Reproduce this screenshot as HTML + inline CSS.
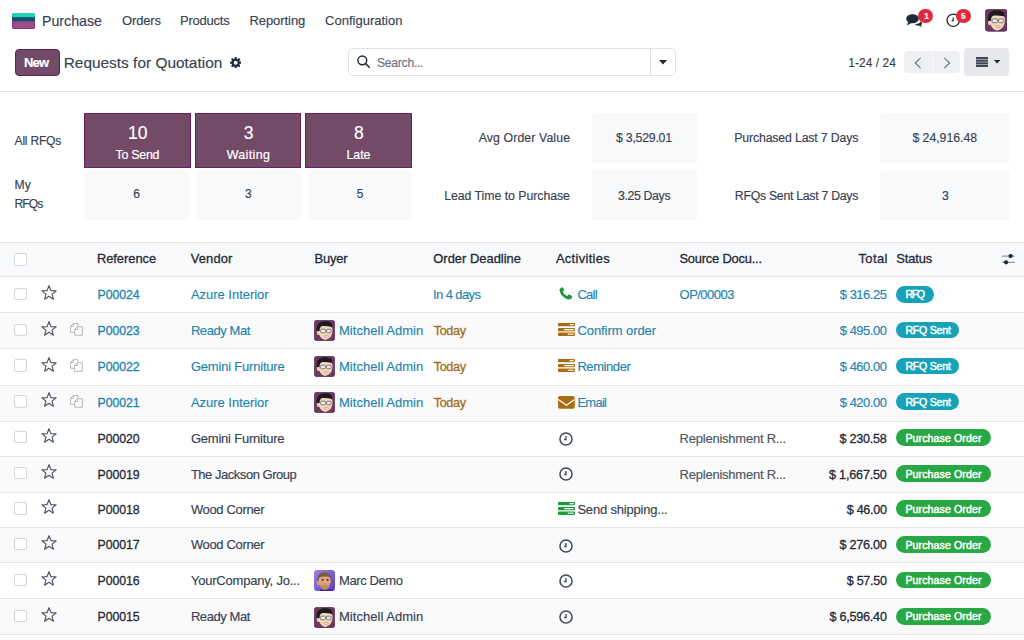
<!DOCTYPE html>
<html><head><meta charset="utf-8"><style>
*{box-sizing:border-box;margin:0;padding:0}
html,body{width:1024px;height:640px;overflow:hidden;background:#fff}
body{font-family:"Liberation Sans",sans-serif;color:#374151;position:relative;font-size:13px}
.a{position:absolute}
.t{position:absolute;white-space:nowrap;line-height:1;-webkit-text-stroke:0.15px currentColor}
.sb{-webkit-text-stroke:0.3px currentColor}
.sb2{-webkit-text-stroke:0.2px currentColor}
.sbw{-webkit-text-stroke:0.45px currentColor}
.box{position:absolute;background:#f8f9fb;border-radius:2px}
.pt{position:absolute;background:#734b68;border:1px solid #6a1f5c}
.cb{position:absolute;left:14px;width:13px;height:13px;border:1px solid #d3d6da;border-radius:2px;background:#fff}
.lk{color:#1e84ad}
.dk{color:#374151}
.hd{color:#1f2937}
.gr{color:#4b5563}
.today{color:#a06d1c}
.badge{position:absolute;left:896px;height:17px;border-radius:9px}
.info{background:#17a2b8}
.succ{background:#28a745}
</style></head><body>
<svg class="a" style="left:11.7px;top:12.7px" width="23" height="16" viewBox="0 0 23 16">
<rect x="0" y="0" width="23" height="16" rx="2" fill="#9a4f86"/>
<rect x="0.5" y="8" width="22" height="7.5" rx="1.5" fill="none" stroke="#8c2c7c" stroke-width="0.9"/>
<rect x="0" y="0" width="23" height="4.4" rx="1.5" fill="#22d3b9"/>
<rect x="0" y="4.2" width="23" height="3.9" fill="#0b5573"/>
</svg>
<div class="t" style="left:42.00px;top:14.00px;font-size:14.3px;letter-spacing:-0.060px;color:#374151">Purchase</div>
<div class="t" style="left:122.00px;top:14.00px;font-size:13px;letter-spacing:-0.143px;color:#374151">Orders</div>
<div class="t" style="left:180.00px;top:14.00px;font-size:13px;letter-spacing:-0.226px;color:#374151">Products</div>
<div class="t" style="left:249.40px;top:14.00px;font-size:13px;letter-spacing:-0.057px;color:#374151">Reporting</div>
<div class="t" style="left:325.00px;top:14.00px;font-size:13px;letter-spacing:0.012px;color:#374151">Configuration</div>
<svg class="a" style="left:906px;top:14px" width="17" height="13" viewBox="0 0 17 13">
<ellipse cx="6.5" cy="4.8" rx="6.3" ry="4.5" fill="#1f2937"/>
<path d="M2 8 L1.2 11.5 L5.5 9 Z" fill="#1f2937"/>
<path d="M9 10.2 C11 10.2 13.8 9.5 14.8 7.5 C16.5 8.5 16.2 10.5 15 11.2 L16.2 13 L12.5 11.6 C11 11.8 9.8 11.2 9 10.2Z" fill="#1f2937"/>
</svg>
<div class="a" style="left:918.2px;top:8.8px;width:14.7px;height:14.7px;border-radius:50%;background:#e12a3e"></div>
<div class="t" style="left:924.20px;top:13.00px;font-size:8.2px;color:#fff;font-weight:bold">1</div>
<svg class="a" style="left:946.3px;top:13.2px" width="14.5" height="14.5" viewBox="0 0 14.5 14.5">
<circle cx="7.25" cy="7.25" r="6.2" fill="none" stroke="#1f2937" stroke-width="1.3"/>
<path d="M7.25 4.5 V7.6 H5.6" fill="none" stroke="#1f2937" stroke-width="1.2"/>
</svg>
<div class="a" style="left:955.9px;top:8.8px;width:14.7px;height:14.7px;border-radius:50%;background:#e12a3e"></div>
<div class="t" style="left:961.10px;top:13.00px;font-size:8.2px;color:#fff;font-weight:bold">5</div>
<svg class="a" style="left:984.7px;top:9.2px" width="22.6" height="22.6" viewBox="0 0 22.6 22.6"><rect x="0.3" y="0.3" width="22" height="22" rx="3" fill="#6a3a60" stroke="#62184f" stroke-width="0.7"/><ellipse cx="4.7" cy="13.8" rx="1.7" ry="2.4" fill="#f2cfae"/><path d="M5 9 C4.3 14.5 6.5 21 12.2 21.4 C17.6 20.8 20.3 15.5 19.9 9.8 C19.6 6.8 16.3 5.6 12.2 5.6 C8.2 5.6 5.4 6.2 5 9Z" fill="#f5d6b7"/><path d="M3 11.8 C2.2 6 4.6 1.6 11 1.3 C16.5 1.1 20.6 2.8 19.6 7.6 C17 6.6 12.5 6.9 8.8 6.5 C7.4 7 6.6 8 6.2 9.3 L5.9 12 Z" fill="#1b1b1d"/><rect x="7.1" y="9.9" width="5.3" height="3.8" rx="1" fill="#e9ecee" stroke="#66696e" stroke-width="0.9"/><rect x="13.6" y="9.9" width="4.8" height="3.8" rx="1" fill="#e9ecee" stroke="#66696e" stroke-width="0.9"/><path d="M12.4 11 H13.6" stroke="#66696e" stroke-width="0.8"/><ellipse cx="13.1" cy="17.6" rx="2.4" ry="0.9" fill="#f4f4f4" stroke="#b67e63" stroke-width="0.6"/></svg>
<div class="a" style="left:14.5px;top:48.6px;width:45.1px;height:27.6px;background:#714b67;border:1px solid #5e2352;border-radius:4px"></div>
<div class="t" style="left:24.00px;top:56.00px;font-size:13px;letter-spacing:-0.790px;color:#fff;font-weight:bold">New</div>
<div class="t" style="left:63.70px;top:55.00px;font-size:15.4px;letter-spacing:0.015px;color:#374151">Requests for Quotation</div>
<svg class="a" style="left:229.6px;top:57px" width="11.4" height="11.4" viewBox="0 0 12 12">
<g fill="#1f2937"><circle cx="6" cy="6" r="4.2"/>
<rect x="4.85" y="0" width="2.3" height="12" rx="0.6"/>
<rect x="0" y="4.85" width="12" height="2.3" rx="0.6"/>
<rect x="4.85" y="0" width="2.3" height="12" rx="0.6" transform="rotate(45 6 6)"/>
<rect x="4.85" y="0" width="2.3" height="12" rx="0.6" transform="rotate(-45 6 6)"/></g>
<circle cx="6" cy="6" r="2.1" fill="#fff"/></svg>
<div class="a" style="left:348px;top:48.3px;width:328px;height:28px;border:1px solid #dee1e5;border-radius:5px;background:#fff"></div>
<div class="a" style="left:650px;top:49px;width:1px;height:26.6px;background:#dee1e5"></div>
<svg class="a" style="left:356.6px;top:55.2px" width="13" height="13" viewBox="0 0 13 13">
<circle cx="5.3" cy="5.3" r="4.4" fill="none" stroke="#1f2937" stroke-width="1.45"/>
<path d="M8.5 8.5 L12.2 12.2" stroke="#1f2937" stroke-width="1.6" stroke-linecap="round"/></svg>
<div class="t" style="left:377.00px;top:57.00px;font-size:12.2px;letter-spacing:-0.287px;color:#6b7280">Search...</div>
<svg class="a" style="left:659.2px;top:60px" width="8" height="5" viewBox="0 0 8 5"><path d="M0 0 H8 L4 4.6Z" fill="#1f2937"/></svg>
<div class="t" style="left:848.30px;top:58.00px;font-size:11.9px;letter-spacing:0.082px;color:#374151">1-24 / 24</div>
<div class="a" style="left:904px;top:51.2px;width:56px;height:22px;background:#eef0f3;border-radius:4px"></div>
<div class="a" style="left:931.8px;top:51.2px;width:1px;height:22px;background:#fafbfc"></div>
<svg class="a" style="left:914.3px;top:56.5px" width="8" height="12" viewBox="0 0 8 12"><path d="M6.6 0.8 L1.2 6 L6.6 11.2" fill="none" stroke="#6b7280" stroke-width="1.1"/></svg>
<svg class="a" style="left:942.5px;top:56.5px" width="8" height="12" viewBox="0 0 8 12"><path d="M1.2 0.8 L6.6 6 L1.2 11.2" fill="none" stroke="#6b7280" stroke-width="1.1"/></svg>
<div class="a" style="left:964px;top:48.3px;width:45.3px;height:28px;background:#e6e8eb;border-radius:4px"></div>
<svg class="a" style="left:975.8px;top:56.8px" width="12.5" height="10" viewBox="0 0 12.5 10"><g fill="#3f4756"><rect y="0" width="12.5" height="2.1"/><rect y="2.65" width="12.5" height="2.1"/><rect y="5.3" width="12.5" height="2.1"/><rect y="7.9" width="12.5" height="2.1"/></g></svg>
<svg class="a" style="left:994px;top:60.4px" width="6.2" height="3.5" viewBox="0 0 6.2 3.5"><path d="M0 0 H6.2 L3.1 3.5Z" fill="#1f2937"/></svg>
<div class="a" style="left:0;top:90.5px;width:1024px;height:1px;background:#e2e5e8"></div>
<div class="t" style="left:14.60px;top:135.00px;font-size:12.1px;letter-spacing:-0.243px">All RFQs</div>
<div class="t" style="left:14.60px;top:179.00px;font-size:12.1px">My</div>
<div class="t" style="left:14.60px;top:198.00px;font-size:12.1px;letter-spacing:-0.994px">RFQs</div>
<div class="pt" style="left:84px;top:113.3px;width:107.0px;height:54.9px"></div>
<div class="t" style="left:128.09px;top:125.00px;font-size:17.5px;color:#fff">10</div>
<div class="t sb2" style="left:115.45px;top:149.00px;font-size:12.4px;letter-spacing:-0.235px;color:#fff">To Send</div>
<div class="pt" style="left:195.2px;top:113.3px;width:106.2px;height:54.9px"></div>
<div class="t" style="left:243.74px;top:125.00px;font-size:17.5px;color:#fff">3</div>
<div class="t sb2" style="left:226.75px;top:149.00px;font-size:12.4px;letter-spacing:0.374px;color:#fff">Waiting</div>
<div class="pt" style="left:304.9px;top:113.3px;width:107.1px;height:54.9px"></div>
<div class="t" style="left:353.89px;top:125.00px;font-size:17.5px;color:#fff">8</div>
<div class="t sb2" style="left:346.40px;top:149.00px;font-size:12.4px;color:#fff">Late</div>
<div class="box" style="left:84px;top:170.3px;width:105.0px;height:49.7px"></div>
<div class="t" style="left:133.17px;top:188.00px;font-size:12px">6</div>
<div class="box" style="left:196px;top:170.3px;width:104.7px;height:49.7px"></div>
<div class="t" style="left:245.02px;top:188.00px;font-size:12px">3</div>
<div class="box" style="left:307.7px;top:170.3px;width:104.8px;height:49.7px"></div>
<div class="t" style="left:356.77px;top:188.00px;font-size:12px">5</div>
<div class="t" style="left:478.70px;top:132.00px;font-size:12.3px;letter-spacing:0.108px">Avg Order Value</div>
<div class="t" style="left:444.20px;top:190.00px;font-size:12.3px;letter-spacing:-0.035px">Lead Time to Purchase</div>
<div class="box" style="left:592.2px;top:113px;width:104.5px;height:50.3px"></div>
<div class="box" style="left:592.2px;top:170.3px;width:104.5px;height:50px"></div>
<div class="t" style="left:616.00px;top:132.00px;font-size:12.3px;letter-spacing:-0.235px">$ 3,529.01</div>
<div class="t" style="left:618.00px;top:190.00px;font-size:12.3px;letter-spacing:-0.351px">3.25 Days</div>
<div class="t" style="left:734.30px;top:132.00px;font-size:12.3px;letter-spacing:-0.154px">Purchased Last 7 Days</div>
<div class="t" style="left:734.80px;top:190.00px;font-size:12.3px;letter-spacing:-0.281px">RFQs Sent Last 7 Days</div>
<div class="box" style="left:880.3px;top:113.1px;width:129.4px;height:50px"></div>
<div class="box" style="left:880.3px;top:170.5px;width:129.4px;height:49.8px"></div>
<div class="t" style="left:912.40px;top:132.00px;font-size:12.3px;letter-spacing:-0.031px">$ 24,916.48</div>
<div class="t" style="left:942.10px;top:190.00px;font-size:12.3px">3</div>
<div class="a" style="left:0;top:241.8px;width:1024px;height:1px;background:#e4e6e9"></div>
<div class="a" style="left:0;top:242.8px;width:1024px;height:34px;background:#f8f9fa"></div>
<div class="a" style="left:0;top:276.4px;width:1024px;height:1px;background:#e2e4e7"></div>
<div class="cb" style="top:253.3px;height:12.3px"></div>
<div class="t hd sb" style="left:96.90px;top:253.00px;font-size:12.9px;letter-spacing:-0.029px">Reference</div>
<div class="t hd sb" style="left:190.80px;top:253.00px;font-size:12.9px;letter-spacing:0.121px">Vendor</div>
<div class="t hd sb" style="left:314.50px;top:253.00px;font-size:12.9px;letter-spacing:-0.167px">Buyer</div>
<div class="t hd sb" style="left:433.30px;top:253.00px;font-size:12.9px;letter-spacing:0.018px">Order Deadline</div>
<div class="t hd sb" style="left:555.90px;top:253.00px;font-size:12.9px;letter-spacing:0.334px">Activities</div>
<div class="t hd sb" style="left:679.40px;top:253.00px;font-size:12.9px;letter-spacing:-0.203px">Source Docu...</div>
<div class="t hd sb" style="left:896.20px;top:253.00px;font-size:12.9px;letter-spacing:-0.114px">Status</div>
<div class="t hd sb" style="left:858.50px;top:253.00px;font-size:12.9px;letter-spacing:0.395px">Total</div>
<svg class="a" style="left:1001.7px;top:253px" width="13" height="12" viewBox="0 0 13 12"><g fill="#8f949c"><rect x="0" y="2.5" width="12.9" height="1.2"/><rect x="0" y="8.7" width="12.9" height="1.2"/></g><g fill="#1f2937"><circle cx="8.6" cy="3.1" r="2.15"/><circle cx="4.1" cy="9.3" r="2.15"/></g></svg>
<div class="a" style="left:0;top:277.50px;width:1024px;height:35.40px;background:#fff"></div>
<div class="a" style="left:0;top:312.00px;width:1024px;height:1px;background:#e5e7eb"></div>
<div class="a" style="left:0;top:312.90px;width:1024px;height:36.20px;background:#fafafa"></div>
<div class="a" style="left:0;top:348.20px;width:1024px;height:1px;background:#e5e7eb"></div>
<div class="a" style="left:0;top:349.10px;width:1024px;height:36.40px;background:#fff"></div>
<div class="a" style="left:0;top:384.60px;width:1024px;height:1px;background:#e5e7eb"></div>
<div class="a" style="left:0;top:385.50px;width:1024px;height:36.40px;background:#fafafa"></div>
<div class="a" style="left:0;top:421.00px;width:1024px;height:1px;background:#e5e7eb"></div>
<div class="a" style="left:0;top:421.90px;width:1024px;height:35.30px;background:#fff"></div>
<div class="a" style="left:0;top:456.30px;width:1024px;height:1px;background:#e5e7eb"></div>
<div class="a" style="left:0;top:457.20px;width:1024px;height:35.30px;background:#fafafa"></div>
<div class="a" style="left:0;top:491.60px;width:1024px;height:1px;background:#e5e7eb"></div>
<div class="a" style="left:0;top:492.50px;width:1024px;height:35.20px;background:#fff"></div>
<div class="a" style="left:0;top:526.80px;width:1024px;height:1px;background:#e5e7eb"></div>
<div class="a" style="left:0;top:527.70px;width:1024px;height:35.50px;background:#fafafa"></div>
<div class="a" style="left:0;top:562.30px;width:1024px;height:1px;background:#e5e7eb"></div>
<div class="a" style="left:0;top:563.20px;width:1024px;height:36.00px;background:#fff"></div>
<div class="a" style="left:0;top:598.30px;width:1024px;height:1px;background:#e5e7eb"></div>
<div class="a" style="left:0;top:599.20px;width:1024px;height:35.90px;background:#fafafa"></div>
<div class="a" style="left:0;top:634.20px;width:1024px;height:1px;background:#e5e7eb"></div>
<div class="cb" style="top:287.80px;height:12.4px;width:12.7px;left:14.1px"></div>
<svg class="a" style="left:40.9px;top:284.90px" width="16" height="16" viewBox="0 0 16 16"><path d="M8.00 0.70 L9.88 5.56 L15.09 5.85 L11.05 9.14 L12.38 14.18 L8.00 11.35 L3.62 14.18 L4.95 9.14 L0.91 5.85 L6.12 5.56Z" fill="none" stroke="#4b5563" stroke-width="1.15" stroke-linejoin="round"/></svg>
<div class="t lk sb" style="left:97.50px;top:289.00px;font-size:12.3px;letter-spacing:-0.047px">P00024</div>
<div class="t lk" style="left:190.90px;top:288.00px;font-size:13px;letter-spacing:-0.020px">Azure Interior</div>
<div class="t lk" style="left:433.10px;top:288.00px;font-size:13px;letter-spacing:-0.610px">In 4 days</div>
<svg class="a" style="left:559.4px;top:287.40px" width="14" height="13" viewBox="0 0 14 13"><path d="M2.6 0.4 C1.2 0.9 0.3 2.2 0.6 3.8 C1.4 7.8 5 11.4 9.3 12.5 C10.9 12.9 12.3 12 12.9 10.6 L13.2 9.7 C13.3 9.3 13.1 9 12.8 8.8 L10.3 7.6 C9.9 7.4 9.5 7.5 9.2 7.9 L8.3 9 C6.3 8.1 4.6 6.4 3.8 4.4 L4.9 3.5 C5.2 3.2 5.3 2.8 5.1 2.4 L3.9 0.7 C3.6 0.3 3.1 0.2 2.6 0.4Z" fill="#1c9a3c"/></svg>
<div class="t lk" style="left:577.40px;top:288.00px;font-size:13px;letter-spacing:-0.708px">Call</div>
<div class="t lk" style="left:679.60px;top:288.00px;font-size:13px;letter-spacing:-0.538px">OP/00003</div>
<div class="t lk" style="left:839.80px;top:288.00px;font-size:13px;letter-spacing:-0.505px">$ 316.25</div>
<div class="badge info" style="top:285.90px;width:38.4px;height:16.8px"></div>
<div class="t sbw" style="left:905.40px;top:289.00px;font-size:10.6px;letter-spacing:-1.333px;color:#fff">RFQ</div>
<div class="cb" style="top:323.60px;height:12.4px;width:12.7px;left:14.1px"></div>
<svg class="a" style="left:40.9px;top:320.70px" width="16" height="16" viewBox="0 0 16 16"><path d="M8.00 0.70 L9.88 5.56 L15.09 5.85 L11.05 9.14 L12.38 14.18 L8.00 11.35 L3.62 14.18 L4.95 9.14 L0.91 5.85 L6.12 5.56Z" fill="none" stroke="#4b5563" stroke-width="1.15" stroke-linejoin="round"/></svg>
<svg class="a" style="left:70px;top:323.00px" width="13" height="13" viewBox="0 0 13 13"><g fill="none" stroke="#b3b8c0" stroke-width="1" stroke-linejoin="round"><path d="M0.6 3.4 L3.4 0.6 H7.9 V3.6 M0.6 3.4 V9.3 H4.6 M0.6 3.4 H3.4 V0.6"/><path d="M4.6 6.5 L7.4 3.7 H12.3 V12.3 H4.6 Z M4.6 6.5 H7.4 V3.7"/></g></svg>
<div class="t lk sb" style="left:97.50px;top:325.00px;font-size:12.3px;letter-spacing:-0.047px">P00023</div>
<div class="t lk" style="left:190.90px;top:324.00px;font-size:13px;letter-spacing:-0.432px">Ready Mat</div>
<svg class="a" style="left:313.8px;top:320.40px" width="21" height="21" viewBox="0 0 22.6 22.6"><rect x="0.3" y="0.3" width="22" height="22" rx="3" fill="#6a3a60" stroke="#62184f" stroke-width="0.7"/><ellipse cx="4.7" cy="13.8" rx="1.7" ry="2.4" fill="#f2cfae"/><path d="M5 9 C4.3 14.5 6.5 21 12.2 21.4 C17.6 20.8 20.3 15.5 19.9 9.8 C19.6 6.8 16.3 5.6 12.2 5.6 C8.2 5.6 5.4 6.2 5 9Z" fill="#f5d6b7"/><path d="M3 11.8 C2.2 6 4.6 1.6 11 1.3 C16.5 1.1 20.6 2.8 19.6 7.6 C17 6.6 12.5 6.9 8.8 6.5 C7.4 7 6.6 8 6.2 9.3 L5.9 12 Z" fill="#1b1b1d"/><rect x="7.1" y="9.9" width="5.3" height="3.8" rx="1" fill="#e9ecee" stroke="#66696e" stroke-width="0.9"/><rect x="13.6" y="9.9" width="4.8" height="3.8" rx="1" fill="#e9ecee" stroke="#66696e" stroke-width="0.9"/><path d="M12.4 11 H13.6" stroke="#66696e" stroke-width="0.8"/><ellipse cx="13.1" cy="17.6" rx="2.4" ry="0.9" fill="#f4f4f4" stroke="#b67e63" stroke-width="0.6"/></svg>
<div class="t lk" style="left:339.00px;top:324.00px;font-size:13px;letter-spacing:0.032px">Mitchell Admin</div>
<div class="t today sb" style="left:433.70px;top:325.00px;font-size:12.6px;letter-spacing:-0.336px">Today</div>
<svg class="a" style="left:558px;top:323.00px" width="17" height="13" viewBox="0 0 17 13"><g fill="#a86f12"><rect x="0" y="0" width="17" height="3.2" rx="0.9"/><rect x="0" y="5" width="17" height="3.2" rx="0.9"/><rect x="0" y="9.5" width="17" height="3.4" rx="0.9"/></g><rect x="11.5" y="1.0" width="4.3" height="1.2" rx="0.6" fill="#fff"/><rect x="6.1" y="6" width="9.7" height="1.2" rx="0.6" fill="#fff"/><rect x="9.6" y="10.6" width="6.2" height="1.3" rx="0.6" fill="#e8d3b0"/></svg>
<div class="t lk" style="left:577.40px;top:324.00px;font-size:13px;letter-spacing:-0.066px">Confirm order</div>
<div class="t lk" style="left:839.80px;top:324.00px;font-size:13px;letter-spacing:-0.505px">$ 495.00</div>
<div class="badge info" style="top:321.70px;width:63.3px;height:16.8px"></div>
<div class="t sbw" style="left:905.40px;top:325.00px;font-size:10.6px;letter-spacing:-0.231px;color:#fff">RFQ Sent</div>
<div class="cb" style="top:359.40px;height:12.4px;width:12.7px;left:14.1px"></div>
<svg class="a" style="left:40.9px;top:356.50px" width="16" height="16" viewBox="0 0 16 16"><path d="M8.00 0.70 L9.88 5.56 L15.09 5.85 L11.05 9.14 L12.38 14.18 L8.00 11.35 L3.62 14.18 L4.95 9.14 L0.91 5.85 L6.12 5.56Z" fill="none" stroke="#4b5563" stroke-width="1.15" stroke-linejoin="round"/></svg>
<svg class="a" style="left:70px;top:358.80px" width="13" height="13" viewBox="0 0 13 13"><g fill="none" stroke="#b3b8c0" stroke-width="1" stroke-linejoin="round"><path d="M0.6 3.4 L3.4 0.6 H7.9 V3.6 M0.6 3.4 V9.3 H4.6 M0.6 3.4 H3.4 V0.6"/><path d="M4.6 6.5 L7.4 3.7 H12.3 V12.3 H4.6 Z M4.6 6.5 H7.4 V3.7"/></g></svg>
<div class="t lk sb" style="left:97.50px;top:361.00px;font-size:12.3px;letter-spacing:-0.047px">P00022</div>
<div class="t lk" style="left:190.90px;top:360.00px;font-size:13px;letter-spacing:-0.199px">Gemini Furniture</div>
<svg class="a" style="left:313.8px;top:356.20px" width="21" height="21" viewBox="0 0 22.6 22.6"><rect x="0.3" y="0.3" width="22" height="22" rx="3" fill="#6a3a60" stroke="#62184f" stroke-width="0.7"/><ellipse cx="4.7" cy="13.8" rx="1.7" ry="2.4" fill="#f2cfae"/><path d="M5 9 C4.3 14.5 6.5 21 12.2 21.4 C17.6 20.8 20.3 15.5 19.9 9.8 C19.6 6.8 16.3 5.6 12.2 5.6 C8.2 5.6 5.4 6.2 5 9Z" fill="#f5d6b7"/><path d="M3 11.8 C2.2 6 4.6 1.6 11 1.3 C16.5 1.1 20.6 2.8 19.6 7.6 C17 6.6 12.5 6.9 8.8 6.5 C7.4 7 6.6 8 6.2 9.3 L5.9 12 Z" fill="#1b1b1d"/><rect x="7.1" y="9.9" width="5.3" height="3.8" rx="1" fill="#e9ecee" stroke="#66696e" stroke-width="0.9"/><rect x="13.6" y="9.9" width="4.8" height="3.8" rx="1" fill="#e9ecee" stroke="#66696e" stroke-width="0.9"/><path d="M12.4 11 H13.6" stroke="#66696e" stroke-width="0.8"/><ellipse cx="13.1" cy="17.6" rx="2.4" ry="0.9" fill="#f4f4f4" stroke="#b67e63" stroke-width="0.6"/></svg>
<div class="t lk" style="left:339.00px;top:360.00px;font-size:13px;letter-spacing:0.032px">Mitchell Admin</div>
<div class="t today sb" style="left:433.70px;top:361.00px;font-size:12.6px;letter-spacing:-0.336px">Today</div>
<svg class="a" style="left:558px;top:358.80px" width="17" height="13" viewBox="0 0 17 13"><g fill="#a86f12"><rect x="0" y="0" width="17" height="3.2" rx="0.9"/><rect x="0" y="5" width="17" height="3.2" rx="0.9"/><rect x="0" y="9.5" width="17" height="3.4" rx="0.9"/></g><rect x="11.5" y="1.0" width="4.3" height="1.2" rx="0.6" fill="#fff"/><rect x="6.1" y="6" width="9.7" height="1.2" rx="0.6" fill="#fff"/><rect x="9.6" y="10.6" width="6.2" height="1.3" rx="0.6" fill="#e8d3b0"/></svg>
<div class="t lk" style="left:577.40px;top:360.00px;font-size:13px;letter-spacing:-0.422px">Reminder</div>
<div class="t lk" style="left:839.80px;top:360.00px;font-size:13px;letter-spacing:-0.505px">$ 460.00</div>
<div class="badge info" style="top:357.50px;width:63.3px;height:16.8px"></div>
<div class="t sbw" style="left:905.40px;top:361.00px;font-size:10.6px;letter-spacing:-0.231px;color:#fff">RFQ Sent</div>
<div class="cb" style="top:395.20px;height:12.4px;width:12.7px;left:14.1px"></div>
<svg class="a" style="left:40.9px;top:392.30px" width="16" height="16" viewBox="0 0 16 16"><path d="M8.00 0.70 L9.88 5.56 L15.09 5.85 L11.05 9.14 L12.38 14.18 L8.00 11.35 L3.62 14.18 L4.95 9.14 L0.91 5.85 L6.12 5.56Z" fill="none" stroke="#4b5563" stroke-width="1.15" stroke-linejoin="round"/></svg>
<svg class="a" style="left:70px;top:394.60px" width="13" height="13" viewBox="0 0 13 13"><g fill="none" stroke="#b3b8c0" stroke-width="1" stroke-linejoin="round"><path d="M0.6 3.4 L3.4 0.6 H7.9 V3.6 M0.6 3.4 V9.3 H4.6 M0.6 3.4 H3.4 V0.6"/><path d="M4.6 6.5 L7.4 3.7 H12.3 V12.3 H4.6 Z M4.6 6.5 H7.4 V3.7"/></g></svg>
<div class="t lk sb" style="left:97.50px;top:397.00px;font-size:12.3px;letter-spacing:-0.047px">P00021</div>
<div class="t lk" style="left:190.90px;top:396.00px;font-size:13px;letter-spacing:-0.020px">Azure Interior</div>
<svg class="a" style="left:313.8px;top:392.00px" width="21" height="21" viewBox="0 0 22.6 22.6"><rect x="0.3" y="0.3" width="22" height="22" rx="3" fill="#6a3a60" stroke="#62184f" stroke-width="0.7"/><ellipse cx="4.7" cy="13.8" rx="1.7" ry="2.4" fill="#f2cfae"/><path d="M5 9 C4.3 14.5 6.5 21 12.2 21.4 C17.6 20.8 20.3 15.5 19.9 9.8 C19.6 6.8 16.3 5.6 12.2 5.6 C8.2 5.6 5.4 6.2 5 9Z" fill="#f5d6b7"/><path d="M3 11.8 C2.2 6 4.6 1.6 11 1.3 C16.5 1.1 20.6 2.8 19.6 7.6 C17 6.6 12.5 6.9 8.8 6.5 C7.4 7 6.6 8 6.2 9.3 L5.9 12 Z" fill="#1b1b1d"/><rect x="7.1" y="9.9" width="5.3" height="3.8" rx="1" fill="#e9ecee" stroke="#66696e" stroke-width="0.9"/><rect x="13.6" y="9.9" width="4.8" height="3.8" rx="1" fill="#e9ecee" stroke="#66696e" stroke-width="0.9"/><path d="M12.4 11 H13.6" stroke="#66696e" stroke-width="0.8"/><ellipse cx="13.1" cy="17.6" rx="2.4" ry="0.9" fill="#f4f4f4" stroke="#b67e63" stroke-width="0.6"/></svg>
<div class="t lk" style="left:339.00px;top:396.00px;font-size:13px;letter-spacing:0.032px">Mitchell Admin</div>
<div class="t today sb" style="left:433.70px;top:397.00px;font-size:12.6px;letter-spacing:-0.336px">Today</div>
<svg class="a" style="left:557.9px;top:396.20px" width="16.8" height="12.8" viewBox="0 0 17 13"><rect x="0" y="0" width="17" height="13" rx="1.8" fill="#a86f12"/><path d="M0.3 3.6 L8.5 9.3 L16.7 3.6" fill="none" stroke="#fff" stroke-width="1.25"/></svg>
<div class="t lk" style="left:577.40px;top:396.00px;font-size:13px;letter-spacing:-0.725px">Email</div>
<div class="t lk" style="left:839.80px;top:396.00px;font-size:13px;letter-spacing:-0.505px">$ 420.00</div>
<div class="badge info" style="top:393.30px;width:63.3px;height:16.8px"></div>
<div class="t sbw" style="left:905.40px;top:397.00px;font-size:10.6px;letter-spacing:-0.231px;color:#fff">RFQ Sent</div>
<div class="cb" style="top:431.00px;height:12.4px;width:12.7px;left:14.1px"></div>
<svg class="a" style="left:40.9px;top:428.10px" width="16" height="16" viewBox="0 0 16 16"><path d="M8.00 0.70 L9.88 5.56 L15.09 5.85 L11.05 9.14 L12.38 14.18 L8.00 11.35 L3.62 14.18 L4.95 9.14 L0.91 5.85 L6.12 5.56Z" fill="none" stroke="#4b5563" stroke-width="1.15" stroke-linejoin="round"/></svg>
<div class="t hd sb" style="left:97.50px;top:433.00px;font-size:12.3px;letter-spacing:-0.047px">P00020</div>
<div class="t dk" style="left:190.90px;top:432.00px;font-size:13px;letter-spacing:-0.212px">Gemini Furniture</div>
<svg class="a" style="left:559.3px;top:431.50px" width="14" height="14" viewBox="0 0 14 14"><circle cx="7" cy="7" r="6.05" fill="none" stroke="#404958" stroke-width="1.5"/><path d="M7 3.9 V7.5 H5.1" fill="none" stroke="#404958" stroke-width="1.3"/></svg>
<div class="t gr" style="left:679.60px;top:432.00px;font-size:13px;letter-spacing:-0.233px">Replenishment R...</div>
<div class="t hd sb" style="left:839.40px;top:433.00px;font-size:12.6px;letter-spacing:-0.225px">$ 230.58</div>
<div class="badge succ" style="top:429.10px;width:94.6px;height:16.8px"></div>
<div class="t sbw" style="left:905.40px;top:433.00px;font-size:10.6px;letter-spacing:0.097px;color:#fff">Purchase Order</div>
<div class="cb" style="top:466.90px;height:12.4px;width:12.7px;left:14.1px"></div>
<svg class="a" style="left:40.9px;top:464.00px" width="16" height="16" viewBox="0 0 16 16"><path d="M8.00 0.70 L9.88 5.56 L15.09 5.85 L11.05 9.14 L12.38 14.18 L8.00 11.35 L3.62 14.18 L4.95 9.14 L0.91 5.85 L6.12 5.56Z" fill="none" stroke="#4b5563" stroke-width="1.15" stroke-linejoin="round"/></svg>
<div class="t hd sb" style="left:97.50px;top:469.00px;font-size:12.3px;letter-spacing:-0.047px">P00019</div>
<div class="t dk" style="left:190.90px;top:468.00px;font-size:13px;letter-spacing:-0.470px">The Jackson Group</div>
<svg class="a" style="left:559.3px;top:467.40px" width="14" height="14" viewBox="0 0 14 14"><circle cx="7" cy="7" r="6.05" fill="none" stroke="#404958" stroke-width="1.5"/><path d="M7 3.9 V7.5 H5.1" fill="none" stroke="#404958" stroke-width="1.3"/></svg>
<div class="t gr" style="left:679.60px;top:468.00px;font-size:13px;letter-spacing:-0.233px">Replenishment R...</div>
<div class="t hd sb" style="left:828.90px;top:469.00px;font-size:12.6px;letter-spacing:-0.171px">$ 1,667.50</div>
<div class="badge succ" style="top:465.00px;width:94.6px;height:16.8px"></div>
<div class="t sbw" style="left:905.40px;top:469.00px;font-size:10.6px;letter-spacing:0.097px;color:#fff">Purchase Order</div>
<div class="cb" style="top:502.20px;height:12.4px;width:12.7px;left:14.1px"></div>
<svg class="a" style="left:40.9px;top:499.30px" width="16" height="16" viewBox="0 0 16 16"><path d="M8.00 0.70 L9.88 5.56 L15.09 5.85 L11.05 9.14 L12.38 14.18 L8.00 11.35 L3.62 14.18 L4.95 9.14 L0.91 5.85 L6.12 5.56Z" fill="none" stroke="#4b5563" stroke-width="1.15" stroke-linejoin="round"/></svg>
<div class="t hd sb" style="left:97.50px;top:504.00px;font-size:12.3px;letter-spacing:-0.047px">P00018</div>
<div class="t dk" style="left:190.90px;top:503.00px;font-size:13px;letter-spacing:-0.339px">Wood Corner</div>
<svg class="a" style="left:558px;top:501.80px" width="17" height="13" viewBox="0 0 17 13"><g fill="#1d9a3a"><rect x="0" y="0" width="17" height="3.2" rx="0.9"/><rect x="0" y="5" width="17" height="3.2" rx="0.9"/><rect x="0" y="9.5" width="17" height="3.4" rx="0.9"/></g><rect x="11.5" y="1.0" width="4.3" height="1.2" rx="0.6" fill="#fff"/><rect x="6.1" y="6" width="9.7" height="1.2" rx="0.6" fill="#fff"/><rect x="9.6" y="10.6" width="6.2" height="1.3" rx="0.6" fill="#bfe3c7"/></svg>
<div class="t dk" style="left:577.40px;top:503.00px;font-size:13px;letter-spacing:-0.194px">Send shipping...</div>
<div class="t hd sb" style="left:846.80px;top:504.00px;font-size:12.6px;letter-spacing:-0.320px">$ 46.00</div>
<div class="badge succ" style="top:500.30px;width:94.6px;height:16.8px"></div>
<div class="t sbw" style="left:905.40px;top:504.00px;font-size:10.6px;letter-spacing:0.097px;color:#fff">Purchase Order</div>
<div class="cb" style="top:538.00px;height:12.4px;width:12.7px;left:14.1px"></div>
<svg class="a" style="left:40.9px;top:535.10px" width="16" height="16" viewBox="0 0 16 16"><path d="M8.00 0.70 L9.88 5.56 L15.09 5.85 L11.05 9.14 L12.38 14.18 L8.00 11.35 L3.62 14.18 L4.95 9.14 L0.91 5.85 L6.12 5.56Z" fill="none" stroke="#4b5563" stroke-width="1.15" stroke-linejoin="round"/></svg>
<div class="t hd sb" style="left:97.50px;top:539.00px;font-size:12.3px;letter-spacing:-0.047px">P00017</div>
<div class="t dk" style="left:190.90px;top:538.00px;font-size:13px;letter-spacing:-0.339px">Wood Corner</div>
<svg class="a" style="left:559.3px;top:538.50px" width="14" height="14" viewBox="0 0 14 14"><circle cx="7" cy="7" r="6.05" fill="none" stroke="#404958" stroke-width="1.5"/><path d="M7 3.9 V7.5 H5.1" fill="none" stroke="#404958" stroke-width="1.3"/></svg>
<div class="t hd sb" style="left:839.40px;top:539.00px;font-size:12.6px;letter-spacing:-0.225px">$ 276.00</div>
<div class="badge succ" style="top:536.10px;width:94.6px;height:16.8px"></div>
<div class="t sbw" style="left:905.40px;top:540.00px;font-size:10.6px;letter-spacing:0.097px;color:#fff">Purchase Order</div>
<div class="cb" style="top:573.60px;height:12.4px;width:12.7px;left:14.1px"></div>
<svg class="a" style="left:40.9px;top:570.70px" width="16" height="16" viewBox="0 0 16 16"><path d="M8.00 0.70 L9.88 5.56 L15.09 5.85 L11.05 9.14 L12.38 14.18 L8.00 11.35 L3.62 14.18 L4.95 9.14 L0.91 5.85 L6.12 5.56Z" fill="none" stroke="#4b5563" stroke-width="1.15" stroke-linejoin="round"/></svg>
<div class="t hd sb" style="left:97.50px;top:575.00px;font-size:12.3px;letter-spacing:-0.047px">P00016</div>
<div class="t dk" style="left:190.90px;top:574.00px;font-size:13px;letter-spacing:-0.206px">YourCompany, Jo...</div>
<svg class="a" style="left:313.8px;top:570.40px" width="21" height="21" viewBox="0 0 21 21"><defs><linearGradient id="mg" x1="0" y1="0" x2="1" y2="1"><stop offset="0" stop-color="#9a83e6"/><stop offset="1" stop-color="#5a40ba"/></linearGradient></defs><rect width="21" height="21" rx="3" fill="url(#mg)"/><path d="M6 19.4 H19 V20 Q19 21 18 21 H6Z" fill="#3a1fa3"/><ellipse cx="4.2" cy="13.2" rx="1.5" ry="2.4" fill="#cf9670"/><path d="M4.6 9.5 C4.4 14.5 6.5 19.3 10.9 19.4 C15 19.3 16.8 14.5 16.6 9.5 C16.4 6 14 4.2 10.6 4.2 C7.2 4.2 4.8 6 4.6 9.5Z" fill="#dca57b"/><path d="M5.6 14.2 C6.2 18 8.5 19.4 10.9 19.4 C13.5 19.4 15.6 17.8 16.1 14.2 C14.5 15.6 12.8 15.2 10.9 15.3 C8.9 15.2 7.2 15.6 5.6 14.2Z" fill="#b98864"/><path d="M3.3 10.6 C2.8 5.3 6 2.3 10.5 2.3 C15 2.3 17.5 5 16.9 10.4 L15.8 7.2 C13.5 6.2 8 6.2 5.2 7.4 L4.6 10.6Z" fill="#7b5942"/><circle cx="8.6" cy="9.9" r="0.95" fill="#3d2a20"/><circle cx="13.6" cy="9.9" r="0.95" fill="#3d2a20"/><path d="M11.3 10.5 L11.6 13.2" stroke="#edc09a" stroke-width="1.1"/><path d="M10.2 14 H12.6" stroke="#8e5e44" stroke-width="0.7"/></svg>
<div class="t dk" style="left:339.00px;top:574.00px;font-size:13px;letter-spacing:-0.401px">Marc Demo</div>
<svg class="a" style="left:559.3px;top:574.10px" width="14" height="14" viewBox="0 0 14 14"><circle cx="7" cy="7" r="6.05" fill="none" stroke="#404958" stroke-width="1.5"/><path d="M7 3.9 V7.5 H5.1" fill="none" stroke="#404958" stroke-width="1.3"/></svg>
<div class="t hd sb" style="left:846.80px;top:575.00px;font-size:12.6px;letter-spacing:-0.320px">$ 57.50</div>
<div class="badge succ" style="top:571.70px;width:94.6px;height:16.8px"></div>
<div class="t sbw" style="left:905.40px;top:575.00px;font-size:10.6px;letter-spacing:0.097px;color:#fff">Purchase Order</div>
<div class="cb" style="top:609.70px;height:12.4px;width:12.7px;left:14.1px"></div>
<svg class="a" style="left:40.9px;top:606.80px" width="16" height="16" viewBox="0 0 16 16"><path d="M8.00 0.70 L9.88 5.56 L15.09 5.85 L11.05 9.14 L12.38 14.18 L8.00 11.35 L3.62 14.18 L4.95 9.14 L0.91 5.85 L6.12 5.56Z" fill="none" stroke="#4b5563" stroke-width="1.15" stroke-linejoin="round"/></svg>
<div class="t hd sb" style="left:97.50px;top:611.00px;font-size:12.3px;letter-spacing:-0.047px">P00015</div>
<div class="t dk" style="left:190.90px;top:610.00px;font-size:13px;letter-spacing:-0.432px">Ready Mat</div>
<svg class="a" style="left:313.8px;top:606.50px" width="21" height="21" viewBox="0 0 22.6 22.6"><rect x="0.3" y="0.3" width="22" height="22" rx="3" fill="#6a3a60" stroke="#62184f" stroke-width="0.7"/><ellipse cx="4.7" cy="13.8" rx="1.7" ry="2.4" fill="#f2cfae"/><path d="M5 9 C4.3 14.5 6.5 21 12.2 21.4 C17.6 20.8 20.3 15.5 19.9 9.8 C19.6 6.8 16.3 5.6 12.2 5.6 C8.2 5.6 5.4 6.2 5 9Z" fill="#f5d6b7"/><path d="M3 11.8 C2.2 6 4.6 1.6 11 1.3 C16.5 1.1 20.6 2.8 19.6 7.6 C17 6.6 12.5 6.9 8.8 6.5 C7.4 7 6.6 8 6.2 9.3 L5.9 12 Z" fill="#1b1b1d"/><rect x="7.1" y="9.9" width="5.3" height="3.8" rx="1" fill="#e9ecee" stroke="#66696e" stroke-width="0.9"/><rect x="13.6" y="9.9" width="4.8" height="3.8" rx="1" fill="#e9ecee" stroke="#66696e" stroke-width="0.9"/><path d="M12.4 11 H13.6" stroke="#66696e" stroke-width="0.8"/><ellipse cx="13.1" cy="17.6" rx="2.4" ry="0.9" fill="#f4f4f4" stroke="#b67e63" stroke-width="0.6"/></svg>
<div class="t dk" style="left:339.00px;top:610.00px;font-size:13px;letter-spacing:0.032px">Mitchell Admin</div>
<svg class="a" style="left:559.3px;top:610.20px" width="14" height="14" viewBox="0 0 14 14"><circle cx="7" cy="7" r="6.05" fill="none" stroke="#404958" stroke-width="1.5"/><path d="M7 3.9 V7.5 H5.1" fill="none" stroke="#404958" stroke-width="1.3"/></svg>
<div class="t hd sb" style="left:829.50px;top:611.00px;font-size:12.6px;letter-spacing:-0.237px">$ 6,596.40</div>
<div class="badge succ" style="top:607.80px;width:94.6px;height:16.8px"></div>
<div class="t sbw" style="left:905.40px;top:611.00px;font-size:10.6px;letter-spacing:0.097px;color:#fff">Purchase Order</div>
</body></html>
